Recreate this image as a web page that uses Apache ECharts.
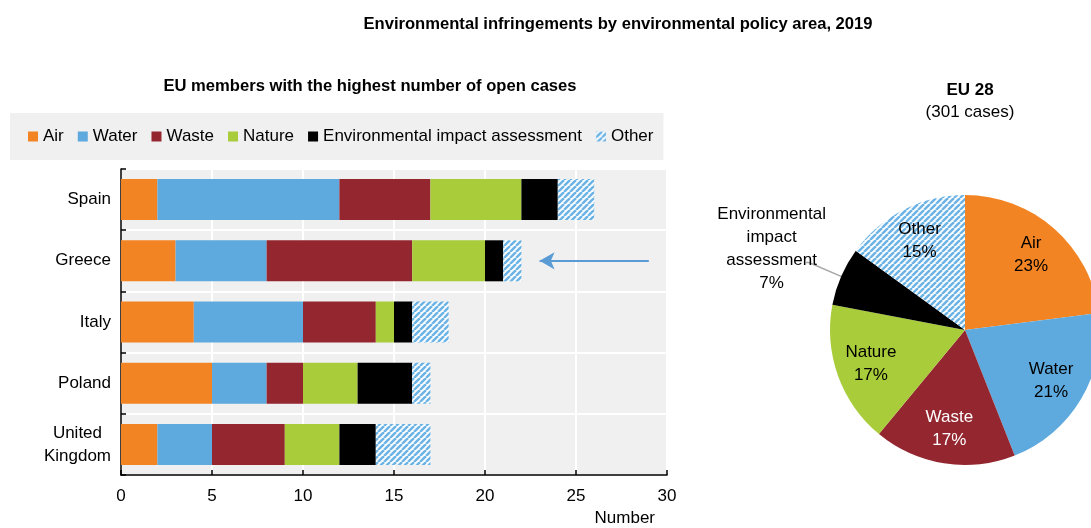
<!DOCTYPE html>
<html>
<head>
<meta charset="utf-8">
<script src="https://cdn.jsdelivr.net/npm/echarts@6/dist/echarts.min.js"></script>
<style>html,body{margin:0;padding:0;background:#fff}#c{width:1091px;height:528px}</style>
</head>
<body>
<div id="c"></div>
<script>
// ---- data ----
var categories = ['Spain', 'Greece', 'Italy', 'Poland', 'United\nKingdom'];
var seriesNames = ['Air', 'Water', 'Waste', 'Nature', 'Environmental impact assessment', 'Other'];
var air    = [2, 3, 4, 5, 2];
var water  = [10, 5, 6, 3, 3];
var waste  = [5, 8, 4, 2, 4];
var nature = [5, 4, 1, 3, 3];
var eia    = [2, 1, 1, 3, 2];
var other  = [2, 1, 2, 1, 3];
var xTicks = [0, 5, 10, 15, 20, 25, 30];
var pieNames  = ['Air', 'Water', 'Waste', 'Nature', 'Environmental impact assessment', 'Other'];
var pieLabels = ['Air', 'Water', 'Waste', 'Nature', 'Environmental\nimpact\nassessment', 'Other'];
var pieShares = [23, 21, 17, 17, 7, 15];
var arrowSpan = [29, 23]; // Greece arrow, in axis units

// ---- styles ----
var FONT = "'Liberation Sans',Arial,sans-serif";
function hatch() {
  var c = document.createElement('canvas');
  c.width = 6; c.height = 6;
  var g = c.getContext('2d');
  g.fillStyle = '#ffffff'; g.fillRect(0, 0, 6, 6);
  g.strokeStyle = '#6cb3e5'; g.lineWidth = 2.5;
  [0, 6, 12].forEach(function (s) {
    g.beginPath(); g.moveTo(s, 0); g.lineTo(s - 6, 6); g.stroke();
  });
  return { image: c, repeat: 'repeat' };
}
var hatchFill = hatch();
var colors = ['#f38424', '#5ea9dd', '#93262f', '#a8cc3a', '#000000', hatchFill];
function centredLines(s) {
  return s.split('\n').map(function (t) { return '{a|' + t + '}'; }).join('\n');
}

var values = [air, water, waste, nature, eia, other];
var barSeries = seriesNames.map(function (n, i) {
  var s = {
    name: n, type: 'bar', stack: 'total', barWidth: '67%',
    itemStyle: { color: colors[i] },
    data: values[i], silent: true
  };
  if (i === 5) {
    var gi = categories.indexOf('Greece');
    s.markLine = {
      silent: true, symbol: ['none', 'arrow'], symbolSize: [13, 15],
      lineStyle: { color: '#5b9bd5', width: 2, type: 'solid' },
      label: { show: false },
      data: [[{ coord: [arrowSpan[0], gi] }, { coord: [arrowSpan[1], gi] }]]
    };
  }
  return s;
});

var pieMain = pieNames.map(function (n, i) {
  var d = { name: n, value: pieShares[i], itemStyle: { color: colors[i] } };
  if (i === 4) {
    d.label = { show: true, position: 'outside',
      formatter: centredLines(pieLabels[i] + '\n' + pieShares[i] + '%'),
      padding: [0, -25, 27, 0],
      rich: { a: { align: 'center', fontFamily: FONT, fontSize: 17, lineHeight: 23, color: '#000' } } };
    d.labelLine = { show: true, length: 35, length2: 3, lineStyle: { color: '#a6a6a6', width: 1.5 } };
  }
  return d;
});
var pieText = pieNames.map(function (n, i) {
  return { name: n, value: pieShares[i],
    label: { show: i !== 4, formatter: pieLabels[i] + '\n' + pieShares[i] + '%', color: i === 2 ? '#fff' : '#000' } };
});

var option = {
  animation: false,
  textStyle: { fontFamily: FONT },
  title: [
    { text: 'Environmental infringements by environmental policy area, 2019', left: 613, top: 11, textAlign: 'center',
      textStyle: { fontFamily: FONT, fontSize: 16.6, fontWeight: 'bold', color: '#000' } },
    { text: 'EU members with the highest number of open cases', left: 365, top: 73, textAlign: 'center',
      textStyle: { fontFamily: FONT, fontSize: 16.6, fontWeight: 'bold', color: '#000' } },
    { text: 'EU 28', subtext: '(301 cases)', left: 965, top: 77, textAlign: 'center', itemGap: 5,
      textStyle: { fontFamily: FONT, fontSize: 17, fontWeight: 'bold', color: '#000' },
      subtextStyle: { fontFamily: FONT, fontSize: 17, color: '#000' } }
  ],
  legend: {
    data: seriesNames, left: 10, top: 113, itemWidth: 10, itemHeight: 10, itemGap: 14,
    padding: [15, 10, 15, 18], backgroundColor: '#f0f0f0', icon: 'rect', selectedMode: false,
    textStyle: { fontFamily: FONT, fontSize: 17, color: '#000' }
  },
  grid: { left: 121, right: 1091 - 667, top: 169, bottom: 528 - 475, show: true, backgroundColor: '#f0f0f0', borderWidth: 0, containLabel: false },
  xAxis: {
    type: 'value', min: xTicks[0], max: xTicks[xTicks.length - 1], interval: xTicks[1] - xTicks[0],
    axisLine: { show: true, lineStyle: { color: '#000', width: 1.5 } },
    axisTick: { show: true, inside: true, length: 5, lineStyle: { color: '#000', width: 1.5 } },
    splitLine: { show: true, lineStyle: { color: '#ffffff', width: 2 } },
    axisLabel: { fontFamily: FONT, fontSize: 17, color: '#000', margin: 13 },
    name: 'Number', nameLocation: 'end', nameGap: -12,
    nameTextStyle: { fontFamily: FONT, fontSize: 17, color: '#000', align: 'right', verticalAlign: 'top', padding: [35, 0, 0, 0] }
  },
  yAxis: {
    type: 'category', data: categories, inverse: true,
    axisLine: { show: true, lineStyle: { color: '#000', width: 1.5 } },
    axisTick: { show: true, inside: true, length: 5, lineStyle: { color: '#000', width: 1.5 } },
    splitLine: { show: true, lineStyle: { color: '#ffffff', width: 2 } },
    axisLabel: { align: 'right', margin: 10, formatter: centredLines,
      rich: { a: { align: 'center', fontFamily: FONT, fontSize: 17, color: '#000', lineHeight: 23 } } }
  },
  series: barSeries.concat([
    { type: 'pie', name: 'EU 28', center: [965, 330], radius: [0, 135], startAngle: 90, clockwise: true,
      silent: true, avoidLabelOverlap: false,
      label: { show: false }, labelLine: { show: false },
      itemStyle: { borderWidth: 0 },
      data: pieMain },
    { type: 'pie', name: 'labels', center: [965, 330], radius: [59, 135], startAngle: 90, clockwise: true,
      silent: true, avoidLabelOverlap: false, legendHoverLink: false,
      itemStyle: { color: 'rgba(0,0,0,0)', borderWidth: 0 },
      label: { show: true, position: 'inside', fontFamily: FONT, fontSize: 17, lineHeight: 23 },
      labelLine: { show: false },
      data: pieText }
  ])
};
var chart = echarts.init(document.getElementById('c'), null, { renderer: 'canvas' });
chart.setOption(option);
</script>
</body>
</html>
